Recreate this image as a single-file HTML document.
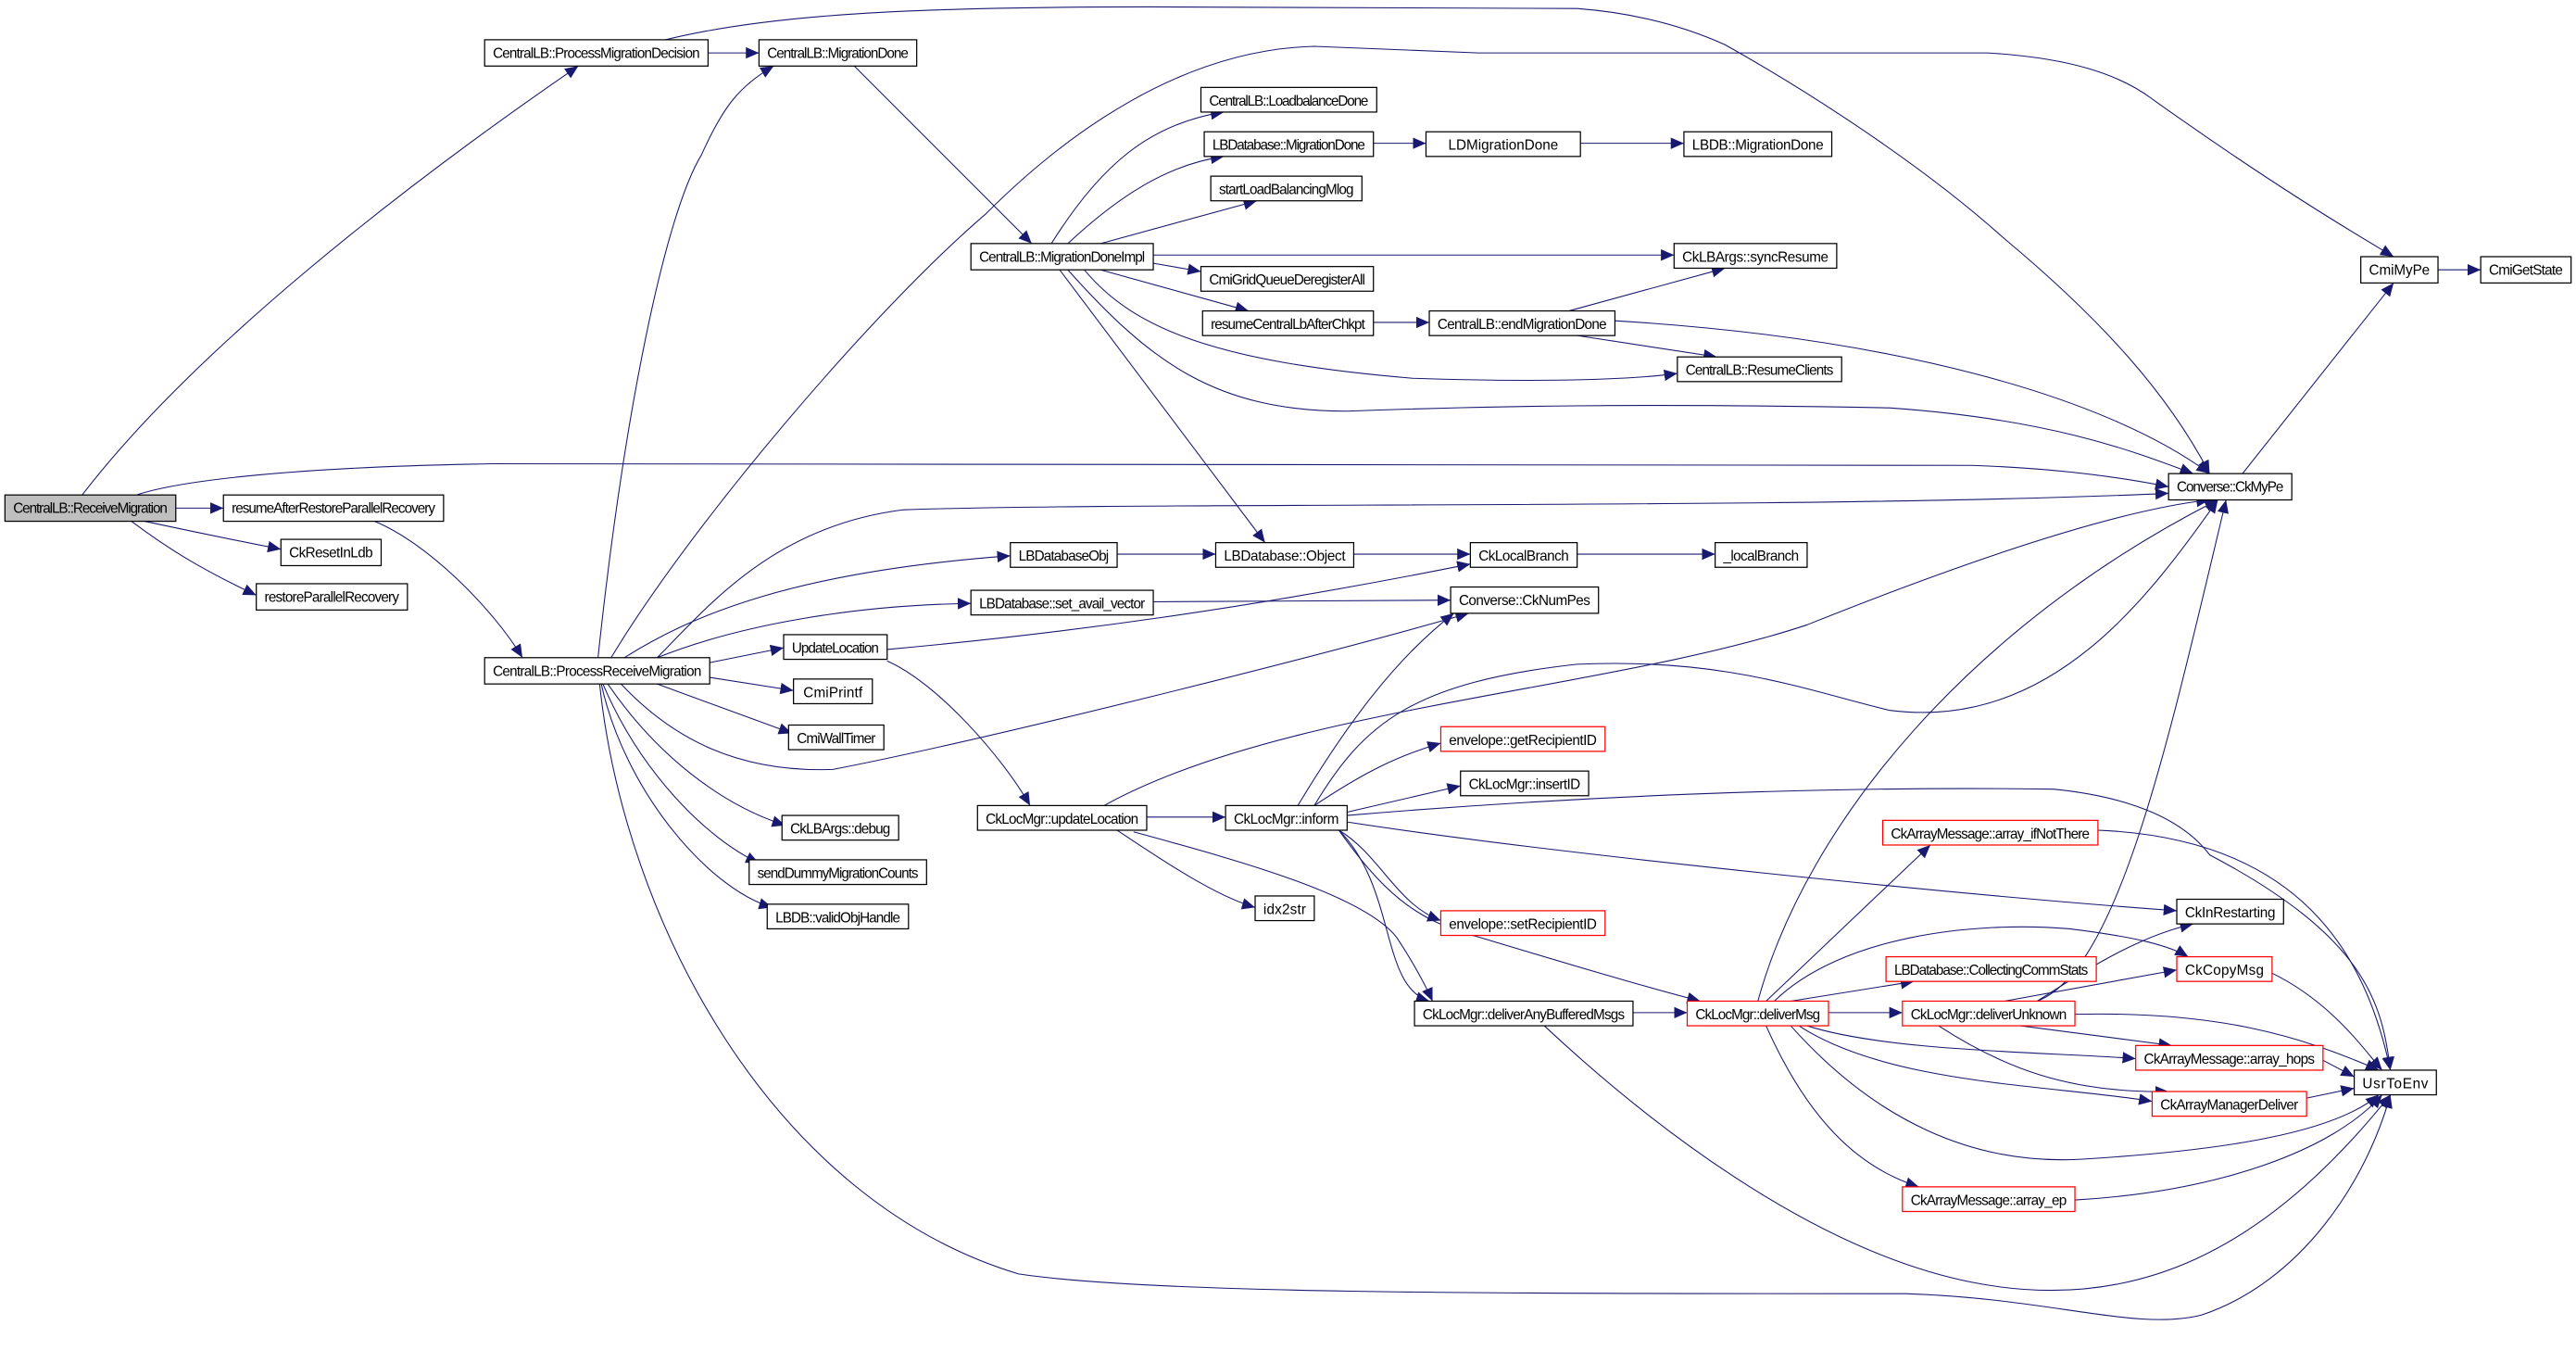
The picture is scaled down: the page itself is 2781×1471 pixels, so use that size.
<!DOCTYPE html>
<html><head><meta charset="utf-8"><style>
html,body{margin:0;padding:0;background:#fff;width:2781px;height:1471px;overflow:hidden}
svg{display:block}
text{font-family:"Liberation Sans",Arial,sans-serif;font-size:8.6px;fill:#000}
.e{fill:none;stroke:#191970;stroke-width:0.6;marker-end:url(#a)}
.n{fill:#fff;stroke:#000;stroke-width:0.7}
.r{fill:#fff;stroke:#f00;stroke-width:0.7}
</style></head><body>
<svg width="2781" height="1471" viewBox="0 0 1568 829" xmlns="http://www.w3.org/2000/svg">
<defs><marker id="a" markerUnits="userSpaceOnUse" markerWidth="9" markerHeight="8" refX="8" refY="4" orient="auto"><path d="M0,0.5 L8,4 L0,7.5 z" fill="#191970"/></marker></defs>
<g>
<path class="e" d="M50,301 C120,210 250,110 352,40"/>
<path class="e" d="M107,309 L136,309"/>
<path class="e" d="M88,317 Q130,326 171,334"/>
<path class="e" d="M80,317 C100,332 120,345 156,362"/>
<path class="e" d="M83,301 C110,292 180,284 300,282 L1200,283 C1260,285 1300,292 1320,296"/>
<path class="e" d="M228,317 C260,330 300,370 318,400"/>
<path class="e" d="M431,32 L462,32"/>
<path class="e" d="M405,24 C470,8 560,4 700,4 L960,5 C1000,8 1030,18 1050,27 C1100,55 1170,100 1220,145 C1280,195 1320,240 1345,288"/>
<path class="e" d="M520,40 L628,148"/>
<path class="e" d="M364,400 C380,250 405,130 427,94 C440,65 450,52 471,40"/>
<path class="e" d="M372,400 C420,320 530,190 600,130 C650,80 720,30 800,28 L900,32 L1210,32 C1260,35 1290,45 1310,60 C1380,110 1430,140 1457,156"/>
<path class="e" d="M380,400 C420,375 480,348 615,338"/>
<path class="e" d="M400,400 C450,380 520,368 591,367"/>
<path class="e" d="M432,403 L477,394"/>
<path class="e" d="M432,412 L483,420"/>
<path class="e" d="M400,416 L482,446"/>
<path class="e" d="M370,416 C400,460 440,490 478,502"/>
<path class="e" d="M367,416 C390,470 430,510 462,525"/>
<path class="e" d="M366,416 C380,480 430,540 470,552"/>
<path class="e" d="M400,400 C430,370 470,320 550,310 C700,305 1100,310 1320,300"/>
<path class="e" d="M378,416 C410,450 450,470 507,468 C600,450 800,400 894,373"/>
<path class="e" d="M365,416 C380,560 470,730 620,775 C700,787 900,787 1160,787 C1250,790 1300,810 1340,800 C1400,780 1440,720 1455,666"/>
<path class="e" d="M540,395 C650,385 760,370 895,343"/>
<path class="e" d="M540,402 C570,415 610,460 627,490"/>
<path class="e" d="M672,490 C780,430 980,420 1100,380 C1200,340 1290,310 1345,304"/>
<path class="e" d="M698,497 L746,497"/>
<path class="e" d="M680,505 C710,525 740,545 764,552"/>
<path class="e" d="M690,506 C760,525 830,545 850,570 C860,585 868,600 872,609"/>
<path class="e" d="M790,490 C820,440 850,400 885,373"/>
<path class="e" d="M800,490 C830,440 860,415 960,404 C1050,400 1100,420 1150,432 C1250,445 1310,360 1350,304"/>
<path class="e" d="M800,490 C830,470 850,460 877,452"/>
<path class="e" d="M820,494 L889,478"/>
<path class="e" d="M820,496 C950,485 1100,478 1250,480 C1300,485 1330,500 1345,520 C1440,570 1450,610 1455,651"/>
<path class="e" d="M820,500 C950,520 1200,545 1325,554"/>
<path class="e" d="M815,505 C840,520 850,550 877,560"/>
<path class="e" d="M815,505 C850,540 840,600 870,609"/>
<path class="e" d="M815,505 C840,540 860,560 900,570 C950,585 1000,600 1035,609"/>
<path class="e" d="M994,616 L1027,616"/>
<path class="e" d="M940,624 C1000,680 1100,760 1200,780 C1300,800 1380,760 1455,666"/>
<path class="e" d="M1070,609 C1100,500 1200,380 1350,304"/>
<path class="e" d="M1075,609 L1175,514"/>
<path class="e" d="M1090,609 L1165,597"/>
<path class="e" d="M1080,609 C1120,570 1200,560 1260,565 C1300,570 1320,575 1332,582"/>
<path class="e" d="M1113,616 L1158,616"/>
<path class="e" d="M1100,624 C1150,640 1250,640 1300,644"/>
<path class="e" d="M1095,624 C1150,660 1250,660 1310,670"/>
<path class="e" d="M1090,624 C1140,680 1200,710 1270,705 C1350,700 1420,690 1448,666"/>
<path class="e" d="M1075,624 C1100,680 1130,710 1168,722"/>
<path class="e" d="M1240,609 C1290,590 1320,450 1355,304"/>
<path class="e" d="M1240,609 C1270,590 1300,570 1335,562"/>
<path class="e" d="M1220,609 L1325,590"/>
<path class="e" d="M1230,624 L1322,636"/>
<path class="e" d="M1180,624 C1220,650 1260,665 1320,664"/>
<path class="e" d="M1263,617 C1350,615 1400,630 1448,651"/>
<path class="e" d="M1277,505 C1400,510 1440,580 1455,651"/>
<path class="e" d="M1383,592 C1420,610 1440,640 1450,651"/>
<path class="e" d="M1414,645 L1433,655"/>
<path class="e" d="M1404,668 L1433,662"/>
<path class="e" d="M1263,730 C1350,725 1420,700 1450,666"/>
<path class="e" d="M640,148 C670,100 700,75 745,68"/>
<path class="e" d="M650,148 C680,120 710,100 745,95"/>
<path class="e" d="M670,148 L765,122"/>
<path class="e" d="M702,155 L1019,155"/>
<path class="e" d="M702,160 L731,165"/>
<path class="e" d="M670,164 L760,189"/>
<path class="e" d="M660,164 C690,200 740,220 860,230 C950,233 1000,230 1021,227"/>
<path class="e" d="M650,164 C700,220 740,250 820,250 C900,247 1000,245 1150,248 C1250,255 1300,275 1335,288"/>
<path class="e" d="M645,164 L770,330"/>
<path class="e" d="M836,87 L868,87"/>
<path class="e" d="M962,87 L1025,87"/>
<path class="e" d="M836,196 L870,196"/>
<path class="e" d="M955,189 L1050,163"/>
<path class="e" d="M960,204 L1045,217"/>
<path class="e" d="M983,195 C1150,205 1280,240 1345,288"/>
<path class="e" d="M680,337 L740,337"/>
<path class="e" d="M824,337 L895,337"/>
<path class="e" d="M960,337 L1044,337"/>
<path class="e" d="M702,366 L883,365"/>
<path class="e" d="M1365,288 L1457,172"/>
<path class="e" d="M1484,164 L1510,164"/>
</g>
<g>
<rect x="3" y="301" width="104" height="16" fill="#bfbfbf" stroke="#000" stroke-width="0.7"/><text x="55" y="312" text-anchor="middle" textLength="94">CentralLB::ReceiveMigration</text>
<rect class="n" x="136" y="301" width="134" height="16"/><text x="203" y="312" text-anchor="middle" textLength="124">resumeAfterRestoreParallelRecovery</text>
<rect class="n" x="171" y="328" width="61" height="16"/><text x="201.5" y="339" text-anchor="middle" textLength="51">CkResetInLdb</text>
<rect class="n" x="156" y="355" width="92" height="16"/><text x="202" y="366" text-anchor="middle" textLength="82">restoreParallelRecovery</text>
<rect class="n" x="295" y="24" width="136" height="16"/><text x="363" y="35" text-anchor="middle" textLength="126">CentralLB::ProcessMigrationDecision</text>
<rect class="n" x="462" y="24" width="96" height="16"/><text x="510" y="35" text-anchor="middle" textLength="86">CentralLB::MigrationDone</text>
<rect class="n" x="295" y="400" width="137" height="16"/><text x="363.5" y="411" text-anchor="middle" textLength="127">CentralLB::ProcessReceiveMigration</text>
<rect class="n" x="591" y="148" width="111" height="16"/><text x="646.5" y="159" text-anchor="middle" textLength="101">CentralLB::MigrationDoneImpl</text>
<rect class="n" x="731" y="53" width="107" height="15"/><text x="784.5" y="64" text-anchor="middle" textLength="97">CentralLB::LoadbalanceDone</text>
<rect class="n" x="733" y="80" width="103" height="15"/><text x="784.5" y="91" text-anchor="middle" textLength="93">LBDatabase::MigrationDone</text>
<rect class="n" x="868" y="80" width="94" height="15"/><text x="915" y="91" text-anchor="middle">LDMigrationDone</text>
<rect class="n" x="1025" y="80" width="90" height="15"/><text x="1070" y="91" text-anchor="middle" textLength="80">LBDB::MigrationDone</text>
<rect class="n" x="737" y="107" width="92" height="15"/><text x="783" y="118" text-anchor="middle" textLength="82">startLoadBalancingMlog</text>
<rect class="n" x="1019" y="148" width="99" height="15"/><text x="1068.5" y="159" text-anchor="middle" textLength="89">CkLBArgs::syncResume</text>
<rect class="n" x="731" y="162" width="105" height="15"/><text x="783.5" y="173" text-anchor="middle" textLength="95">CmiGridQueueDeregisterAll</text>
<rect class="n" x="732" y="189" width="104" height="15"/><text x="784" y="200" text-anchor="middle" textLength="94">resumeCentralLbAfterChkpt</text>
<rect class="n" x="870" y="189" width="113" height="15"/><text x="926.5" y="200" text-anchor="middle" textLength="103">CentralLB::endMigrationDone</text>
<rect class="n" x="1021" y="217" width="100" height="15"/><text x="1071" y="228" text-anchor="middle" textLength="90">CentralLB::ResumeClients</text>
<rect class="n" x="1437" y="156" width="47" height="16"/><text x="1460.5" y="167" text-anchor="middle" textLength="37">CmiMyPe</text>
<rect class="n" x="1510" y="156" width="55" height="16"/><text x="1537.5" y="167" text-anchor="middle" textLength="45">CmiGetState</text>
<rect class="n" x="1320" y="288" width="75" height="16"/><text x="1357.5" y="299" text-anchor="middle" textLength="65">Converse::CkMyPe</text>
<rect class="n" x="615" y="330" width="65" height="15"/><text x="647.5" y="341" text-anchor="middle" textLength="55">LBDatabaseObj</text>
<rect class="n" x="740" y="330" width="84" height="15"/><text x="782" y="341" text-anchor="middle" textLength="74">LBDatabase::Object</text>
<rect class="n" x="895" y="330" width="65" height="15"/><text x="927.5" y="341" text-anchor="middle" textLength="55">CkLocalBranch</text>
<rect class="n" x="1044" y="330" width="56" height="15"/><text x="1072" y="341" text-anchor="middle" textLength="46">_localBranch</text>
<rect class="n" x="591" y="359" width="111" height="15"/><text x="646.5" y="370" text-anchor="middle" textLength="101">LBDatabase::set_avail_vector</text>
<rect class="n" x="883" y="357" width="90" height="16"/><text x="928" y="368" text-anchor="middle" textLength="80">Converse::CkNumPes</text>
<rect class="n" x="477" y="386" width="63" height="15"/><text x="508.5" y="397" text-anchor="middle" textLength="53">UpdateLocation</text>
<rect class="n" x="483" y="413" width="48" height="15"/><text x="507" y="424" text-anchor="middle" textLength="36">CmiPrintf</text>
<rect class="n" x="480" y="441" width="58" height="15"/><text x="509" y="452" text-anchor="middle" textLength="48">CmiWallTimer</text>
<rect class="r" x="877" y="442" width="100" height="15"/><text x="927" y="453" text-anchor="middle" textLength="90">envelope::getRecipientID</text>
<rect class="n" x="476" y="496" width="71" height="15"/><text x="511.5" y="507" text-anchor="middle" textLength="61">CkLBArgs::debug</text>
<rect class="n" x="889" y="469" width="78" height="15"/><text x="928" y="480" text-anchor="middle" textLength="68">CkLocMgr::insertID</text>
<rect class="n" x="595" y="490" width="103" height="15"/><text x="646.5" y="501" text-anchor="middle" textLength="93">CkLocMgr::updateLocation</text>
<rect class="n" x="746" y="490" width="74" height="15"/><text x="783" y="501" text-anchor="middle" textLength="64">CkLocMgr::inform</text>
<rect class="r" x="1146" y="499" width="131" height="15"/><text x="1211.5" y="510" text-anchor="middle" textLength="121">CkArrayMessage::array_ifNotThere</text>
<rect class="n" x="456" y="523" width="108" height="15"/><text x="510" y="534" text-anchor="middle" textLength="98">sendDummyMigrationCounts</text>
<rect class="n" x="764" y="545" width="36" height="15"/><text x="782" y="556" text-anchor="middle" textLength="26">idx2str</text>
<rect class="n" x="1325" y="547" width="65" height="15"/><text x="1357.5" y="558" text-anchor="middle" textLength="55">CkInRestarting</text>
<rect class="n" x="467" y="550" width="86" height="15"/><text x="510" y="561" text-anchor="middle" textLength="76">LBDB::validObjHandle</text>
<rect class="r" x="877" y="554" width="100" height="15"/><text x="927" y="565" text-anchor="middle" textLength="90">envelope::setRecipientID</text>
<rect class="r" x="1148" y="582" width="128" height="15"/><text x="1212" y="593" text-anchor="middle" textLength="118">LBDatabase::CollectingCommStats</text>
<rect class="r" x="1325" y="582" width="58" height="15"/><text x="1354" y="593" text-anchor="middle" textLength="48">CkCopyMsg</text>
<rect class="n" x="861" y="609" width="133" height="15"/><text x="927.5" y="620" text-anchor="middle" textLength="123">CkLocMgr::deliverAnyBufferedMsgs</text>
<rect class="r" x="1027" y="609" width="86" height="15"/><text x="1070" y="620" text-anchor="middle" textLength="76">CkLocMgr::deliverMsg</text>
<rect class="r" x="1158" y="609" width="105" height="15"/><text x="1210.5" y="620" text-anchor="middle" textLength="95">CkLocMgr::deliverUnknown</text>
<rect class="r" x="1300" y="636" width="114" height="15"/><text x="1357" y="647" text-anchor="middle" textLength="104">CkArrayMessage::array_hops</text>
<rect class="n" x="1433" y="651" width="50" height="15"/><text x="1458" y="662" text-anchor="middle" textLength="40">UsrToEnv</text>
<rect class="r" x="1310" y="664" width="94" height="15"/><text x="1357" y="675" text-anchor="middle" textLength="84">CkArrayManagerDeliver</text>
<rect class="r" x="1158" y="722" width="105" height="15"/><text x="1210.5" y="733" text-anchor="middle" textLength="95">CkArrayMessage::array_ep</text>
</g>
</svg>
</body></html>
